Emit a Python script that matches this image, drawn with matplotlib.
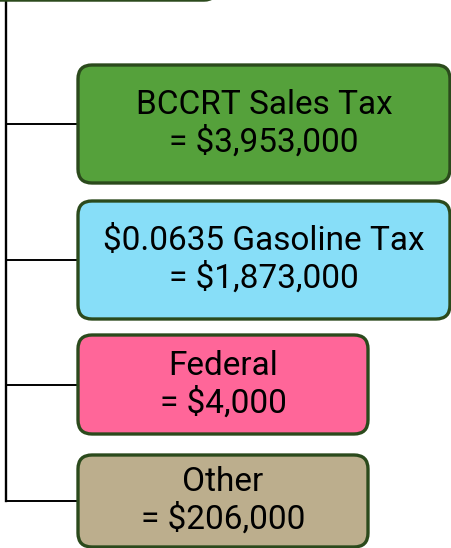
import matplotlib
matplotlib.use('Agg')
import matplotlib.pyplot as plt
from matplotlib.patches import FancyBboxPatch

# data
labels = ['BCCRT Sales Tax', '$0.0635 Gasoline Tax', 'Federal', 'Other']
values = [3953000, 1873000, 4000, 206000]
fills = ['#55a13b', '#87def8', '#ff6699', '#bcae8d']

# layout (pixel units, y down)
W, H = 451, 548
boxes = [(78, 65, 372, 118), (78, 201, 372, 118), (78, 335, 290, 99), (78, 455, 290, 92)]
trunk_x = 6
edge = '#2b4a1c'

fig = plt.figure(figsize=(W / 100, H / 100), dpi=100)
ax = fig.add_axes([0, 0, 1, 1])
ax.set_xlim(0, W)
ax.set_ylim(H, 0)
ax.axis('off')

# parent box peeking from the top
ax.add_patch(FancyBboxPatch((-20, -60), 236, 60, boxstyle='round,pad=0,rounding_size=12',
                            facecolor='white', edgecolor=edge, lw=2.5, zorder=2))

conn_y = [y + h / 2 for (x, y, w, h) in boxes]
ax.plot([trunk_x, trunk_x], [0, conn_y[-1]], color='black', lw=1.7, zorder=1)

for (x, y, w, h), lab, val, fc, cy in zip(boxes, labels, values, fills, conn_y):
    ax.plot([trunk_x, x], [cy, cy], color='black', lw=1.4, zorder=1)
    ax.add_patch(FancyBboxPatch((x, y), w, h, boxstyle='round,pad=0,rounding_size=14',
                                facecolor=fc, edgecolor=edge, lw=2.4, zorder=2))
    ax.text(x + w / 2, cy, f'{lab}\n= ${val:,}', ha='center', va='center',
            fontsize=24, family='Roboto', linespacing=1.2, zorder=3)

fig.savefig('out.png', dpi=100)
